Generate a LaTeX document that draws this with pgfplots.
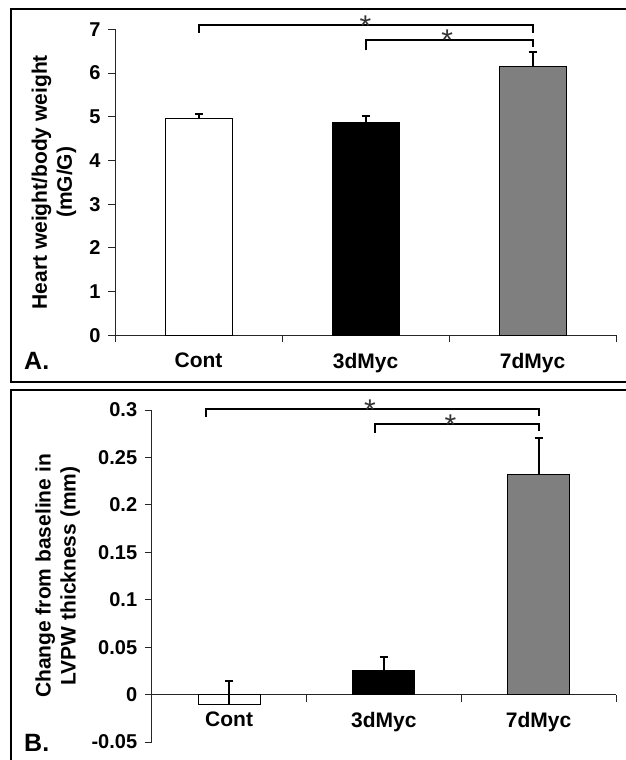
\documentclass[border=0pt]{standalone}
\usepackage{fontspec}
\setmainfont{Liberation Sans}
\usepackage{pgfplots}
\pgfplotsset{compat=1.18}

\definecolor{midgray}{HTML}{7F7F7F}

\pgfplotsset{
  panel/.style={
    scale only axis, anchor=south west, clip=false,
    xmin=-0.5, xmax=2.5,
    xtick={0,1,2}, xticklabels={Cont,3dMyc,7dMyc},
    minor xtick={-0.5,0.5,1.5,2.5},
    major x tick style={draw=none},
    tick align=outside,
    major tick length=7pt, minor tick length=7pt,
    axis y line*=left,
    axis line style={line width=0.9pt, black!85},
    tick style={line width=0.9pt, black!85},
    yticklabel style={font=\bfseries\fontsize{20}{22}\selectfont, black, xshift=-4pt},
    xticklabel style={font=\bfseries\fontsize{21}{22}\selectfont, black, yshift=-7pt},
    every axis y label/.style={rotate=90, anchor=center, align=center,
      font=\bfseries\fontsize{21}{25}\selectfont},
  },
  sbar/.style={ybar, bar shift=0pt, draw=black, line width=0.8pt,
    error bars/y dir=plus, error bars/y explicit,
    error bars/error bar style={line width=2pt, black},
    error bars/error mark options={rotate=90, line width=2pt, mark size=4pt, black}},
}
\tikzset{
  bracket/.style={line width=2pt, black},
  star/.style={anchor=base, inner sep=0pt, font=\fontsize{30}{30}\selectfont, black!80, yshift=-11pt},
}

\begin{document}
\begin{tikzpicture}
\path[use as bounding box] (0,0) rectangle (625pt,760pt);

% panel frames
\draw[line width=2.5pt] (640pt,378pt) -- (11pt,378pt) -- (11pt,751pt) -- (640pt,751pt);
\draw[line width=2.5pt] (640pt,370pt) -- (11pt,370pt) -- (11pt,-10pt);
\node[anchor=base west, inner sep=0pt, font=\bfseries\fontsize{25}{25}\selectfont] at (24pt,390pt) {A.};
\node[anchor=base west, inner sep=0pt, font=\bfseries\fontsize{25}{25}\selectfont] at (24pt,9pt) {B.};

% panel A
\begin{axis}[panel, at={(115pt,424.7pt)}, width=501pt, height=306pt,
    ymin=0, ymax=7, ytick={0,1,2,3,4,5,6,7}, yticklabels={0,1,2,3,4,5,6,7},
    axis x line*=bottom,
    ylabel={Heart weight/body weight\\(mG/G)},
    ylabel style={at={(axis description cs:-0.1218,0.5)}}]
\addplot[sbar, bar width=67pt, fill=white] coordinates {(0,4.96) +- (0,0.11)};
\addplot[sbar, bar width=67pt, fill=black] coordinates {(1,4.87) +- (0,0.15)};
\addplot[sbar, bar width=67pt, fill=midgray] coordinates {(2,6.15) +- (0,0.34)};
\draw[bracket] (axis cs:0,6.92) -- (axis cs:0,7.09) -- (axis cs:2,7.09) -- (axis cs:2,6.92);
\draw[bracket] (axis cs:1,6.52) -- (axis cs:1,6.76) -- (axis cs:2,6.76) -- (axis cs:2,6.60);
\node[star] at (axis cs:1,7.09) {*};
\node[star] at (axis cs:1.49,6.76) {*};
\end{axis}

% panel B
\begin{axis}[panel, at={(151.7pt,18pt)}, width=464.3pt, height=332pt,
    ymin=-0.05, ymax=0.3,
    ytick={-0.05,0,0.05,0.1,0.15,0.2,0.25,0.3},
    yticklabels={-0.05,0,0.05,0.1,0.15,0.2,0.25,0.3},
    axis x line*=middle,
    ylabel={Change from baseline in\\LVPW thickness (mm)},
    ylabel style={at={(axis description cs:-0.2025,0.5)}}]
\addplot[sbar, bar width=62pt, fill=white] coordinates {(0,-0.010) +- (0,0.024)};
\addplot[sbar, bar width=62pt, fill=black] coordinates {(1,0.025) +- (0,0.0145)};
\addplot[sbar, bar width=62pt, fill=midgray] coordinates {(2,0.232) +- (0,0.038)};
\draw[bracket] (axis cs:-0.15,0.293) -- (axis cs:-0.15,0.3007) -- (axis cs:2,0.3007) -- (axis cs:2,0.294);
\draw[bracket] (axis cs:0.94,0.2755) -- (axis cs:0.94,0.285) -- (axis cs:2,0.285) -- (axis cs:2,0.278);
\node[star] at (axis cs:0.91,0.3007) {*};
\node[star] at (axis cs:1.43,0.285) {*};
\end{axis}
\end{tikzpicture}
\end{document}
